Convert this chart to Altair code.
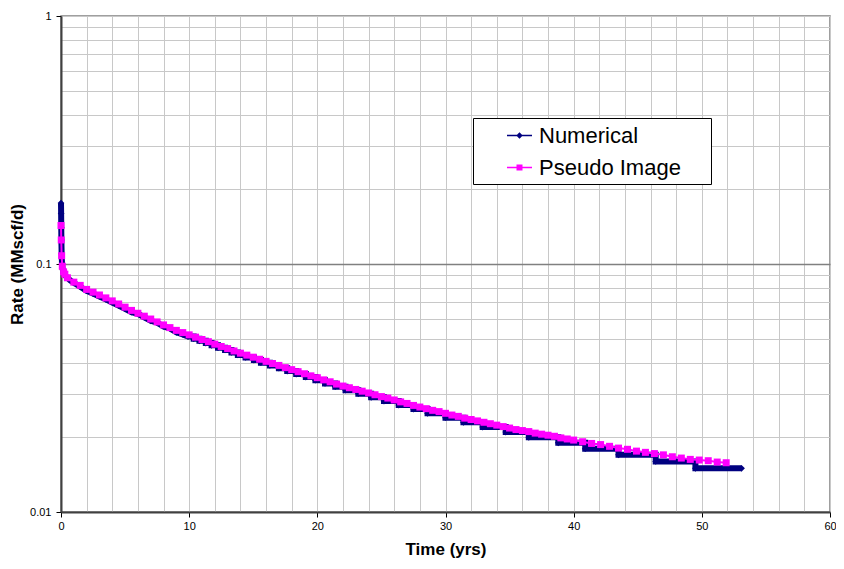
import altair as alt
import pandas as pd

# ---------------- data ----------------
time_ticks = list(range(0, 62, 2))
rate_ticks = [0.01, 0.02, 0.03, 0.04, 0.05, 0.06, 0.07, 0.08, 0.09,
              0.1, 0.2, 0.3, 0.4, 0.5, 0.6, 0.7, 0.8, 0.9, 1]
series_names = ["Numerical", "Pseudo Image"]
series_colors = ["#000080", "#FF00FF"]

# Numerical, early part (smooth)
num_early_t = [0, 0.01, 0.02, 0.03, 0.05, 0.08, 0.12, 0.2, 0.4, 0.7, 1, 1.5, 2,
               2.5, 3, 3.5, 4, 4.5, 5, 5.5, 6, 6.5, 7, 7.5, 8, 8.5, 9, 9.5, 9.9]
num_early_v = [0.176, 0.160, 0.140, 0.125, 0.110, 0.100, 0.096, 0.092, 0.089,
               0.086, 0.084, 0.081, 0.078, 0.076, 0.074, 0.072, 0.070, 0.068,
               0.066, 0.064, 0.063, 0.061, 0.059, 0.058, 0.056, 0.055, 0.053,
               0.052, 0.051]
# Numerical, later part (stair-stepped, values reported to 0.001)
num_step_t = [9.9, 10.35, 10.8, 11.3, 11.75, 12.25, 12.8, 13.3, 13.8, 14.4,
              15.05, 15.6, 16.3, 17.0, 17.65, 18.35, 19.1, 19.85, 20.6, 21.4,
              22.2, 23.2, 24.2, 25.2, 26.35, 27.5, 28.6, 30.0, 31.4, 32.9, 34.7,
              36.5, 38.8, 40.9, 43.5, 46.4, 49.5, 53.1]
num_step_v = [0.051, 0.050, 0.049, 0.048, 0.047, 0.046, 0.045, 0.044, 0.043,
              0.042, 0.041, 0.040, 0.039, 0.038, 0.037, 0.036, 0.035, 0.034,
              0.033, 0.032, 0.031, 0.030, 0.029, 0.028, 0.027, 0.026, 0.025,
              0.024, 0.023, 0.022, 0.021, 0.020, 0.019, 0.018, 0.017, 0.016,
              0.015, 0.015]

# Pseudo Image
pse_t = [0, 0.02, 0.05, 0.1, 0.2, 0.3, 0.5, 1, 1.5, 2, 2.5, 3, 3.5, 4, 4.5, 5,
         5.5, 6, 6.5, 7, 7.5, 8, 8.5, 9, 9.5, 10, 10.5, 11, 11.5, 12, 12.5, 13,
         13.5, 14, 14.5, 15, 15.5, 16, 16.5, 17, 17.5, 18, 18.5, 19, 19.5, 20,
         20.5, 21, 21.5, 22, 22.5, 23, 23.5, 24, 24.5, 25, 25.5, 26, 26.5, 27,
         27.5, 28, 28.5, 29, 29.5, 30, 30.5, 31, 31.5, 32, 32.5, 33, 33.5, 34,
         34.5, 35, 35.5, 36, 36.5, 37, 37.5, 38, 38.5, 39, 39.5, 40,
         40.7, 41.4, 42.1, 42.8, 43.5, 44.2, 44.9, 45.6, 46.3, 47.0, 47.7,
         48.4, 49.1, 49.8, 50.5, 51.2, 51.9]
pse_v = [0.143, 0.125, 0.108, 0.098, 0.093, 0.091, 0.088, 0.0845, 0.082, 0.079,
         0.077, 0.075, 0.073, 0.071, 0.069, 0.067, 0.065, 0.0633, 0.0616, 0.060,
         0.0584, 0.0568, 0.0554, 0.054, 0.0529, 0.0518, 0.0507, 0.0496, 0.0486,
         0.0475, 0.0465, 0.0456, 0.0446, 0.0437, 0.0429, 0.0421, 0.0413, 0.0405,
         0.0397, 0.0390, 0.0382, 0.0375, 0.0368, 0.0361, 0.0354, 0.0348, 0.0341,
         0.0335, 0.0328, 0.0322, 0.0317, 0.0312, 0.0307, 0.0302, 0.0297, 0.0292,
         0.0288, 0.0283, 0.0278, 0.0274, 0.0269, 0.0265, 0.0261, 0.0257, 0.0254,
         0.0250, 0.0246, 0.0243, 0.0239, 0.0236, 0.0233, 0.0230, 0.0227, 0.0224,
         0.0221, 0.0218, 0.0215, 0.0213, 0.0211, 0.0208, 0.0206, 0.0204, 0.0202,
         0.0199, 0.0197, 0.0195,
         0.0192, 0.0189, 0.0187, 0.0184, 0.0181, 0.0179, 0.0176, 0.0174, 0.0172,
         0.0170, 0.0167, 0.0165, 0.0163, 0.0162, 0.0161, 0.0159, 0.0158]

num_early_df = pd.DataFrame({"t": num_early_t, "rate": num_early_v, "series": series_names[0]})
num_step_df = pd.DataFrame({"t": num_step_t, "rate": num_step_v, "series": series_names[0]})
num_all_df = pd.concat([num_early_df, num_step_df.iloc[1:]], ignore_index=True)
pse_df = pd.DataFrame({"t": pse_t, "rate": pse_v, "series": series_names[1]})
legend_df = pd.concat([num_early_df.head(1), pse_df.head(1)], ignore_index=True)

FONT = "Liberation Sans"

x_enc = alt.X(
    "t:Q",
    title="Time (yrs)",
    scale=alt.Scale(domain=[0, 60], nice=False, zero=False),
    axis=alt.Axis(
        values=time_ticks,
        labelExpr="datum.value % 10 === 0 ? datum.label : ''",
        labelOverlap=False,
        labelFlush=False,
        labelFontSize=11,
        labelPadding=3,
        tickSize=5,
        tickColor="#000000",
        tickOpacity={"condition": {"test": "datum.value % 10 === 0", "value": 1}, "value": 0},
        gridColor="#c8c8c8",
        gridWidth=1,
        domainColor="#404040",
        domainWidth=2,
        titleFontSize=17,
        titleFontWeight="bold",
        titleY=37,
        titleBaseline="middle",
    ),
)
y_enc = alt.Y(
    "rate:Q",
    title="Rate (MMscf/d)",
    scale=alt.Scale(type="log", domain=[0.01, 1], nice=False),
    axis=alt.Axis(
        values=rate_ticks,
        labelExpr="datum.value === 1 ? '1' : datum.value === 0.1 ? '0.1' : datum.value === 0.01 ? '0.01' : ''",
        labelOverlap=False,
        labelFlush=False,
        labelFontSize=11,
        labelPadding=5,
        tickSize=5,
        tickColor="#000000",
        tickOpacity={"condition": {"test": "datum.value === 0.01 || datum.value === 0.1 || datum.value === 1", "value": 1}, "value": 0},
        gridColor={"condition": {"test": "datum.value === 0.1", "value": "#808080"}, "value": "#c8c8c8"},
        gridWidth={"condition": {"test": "datum.value === 0.1", "value": 1.5}, "value": 1},
        domainColor="#404040",
        domainWidth=2,
        titleFontSize=17,
        titleFontWeight="bold",
        titleX=-44,
        titleY=248,
        titleAngle=270,
        titleAlign="center",
        titleBaseline="middle",
    ),
)

num_line_early = alt.Chart(num_early_df).mark_line(
    color=series_colors[0], strokeWidth=6
).encode(x=x_enc, y=y_enc)
num_line_steps = alt.Chart(num_step_df).mark_line(
    interpolate="step-after", color=series_colors[0], strokeWidth=6
).encode(x=x_enc, y=y_enc)
num_pts = alt.Chart(num_all_df).mark_point(
    shape="diamond", filled=True, color=series_colors[0], size=45, opacity=1
).encode(x=x_enc, y=y_enc)
pse_line = alt.Chart(pse_df).mark_line(
    color=series_colors[1], strokeWidth=2
).encode(x=x_enc, y=y_enc)
pse_pts = alt.Chart(pse_df).mark_point(
    shape="square", filled=True, color=series_colors[1], size=49, opacity=1
).encode(x=x_enc, y=y_enc)

leg_paths = [
    "M-1,-0.06H1V0.06H-1Z M0,-0.26L0.26,0L0,0.26L-0.26,0Z",
    "M-1,-0.06H1V0.06H-1Z M-0.24,-0.24H0.24V0.24H-0.24Z",
]
pad = "\u00a0" * 4 + "\u200b"
legend = alt.Legend(
    title=None,
    orient="none",
    legendX=412,
    legendY=102,
    symbolSize=625,
    symbolStrokeWidth=0,
    symbolOpacity=1,
    symbolOffset=29,
    labelOffset=7,
    labelFontSize=22,
    labelFont=FONT,
    labelColor="#000000",
    labelLimit=400,
    labelExpr="datum.label + '" + pad + "'",
    strokeColor="#000000",
    fillColor="#ffffff",
    padding=5,
    rowPadding=8,
    cornerRadius=0,
)
legend_layer = alt.Chart(legend_df).mark_point(filled=True, opacity=0).encode(
    x=x_enc,
    y=y_enc,
    color=alt.Color("series:N", scale=alt.Scale(domain=series_names, range=series_colors), legend=legend),
    shape=alt.Shape("series:N", scale=alt.Scale(domain=series_names, range=leg_paths), legend=legend),
)

chart = alt.layer(num_line_early, num_line_steps, num_pts, pse_line, pse_pts, legend_layer).properties(
    width=769,
    height=496,
    autosize=alt.AutoSizeParams(type="none"),
    padding={"left": 53, "top": 8, "right": 6, "bottom": 48},
).configure_view(
    stroke="#808080", strokeWidth=1.5
).configure_axis(
    labelFont=FONT, titleFont=FONT, labelColor="#000000", titleColor="#000000"
).configure_legend(
    strokeWidth=1
)

chart.save("out.html", embed_options={"renderer": "svg", "actions": False})
